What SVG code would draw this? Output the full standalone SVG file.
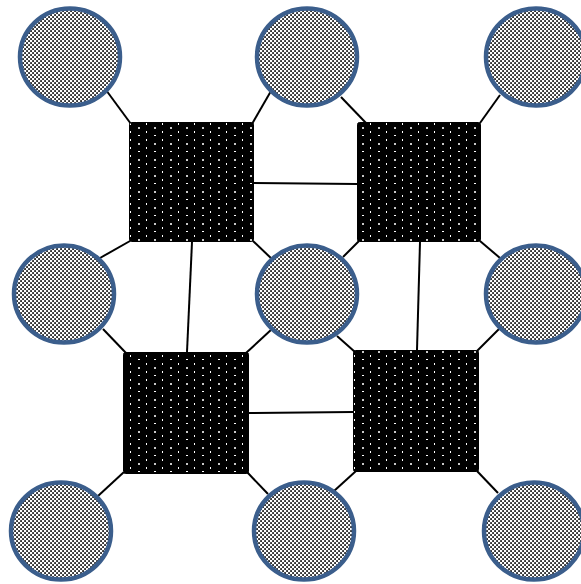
<svg xmlns="http://www.w3.org/2000/svg" width="581" height="584" viewBox="0 0 581 584">
<defs>
<pattern id="checker" width="4" height="4" patternUnits="userSpaceOnUse">
<rect width="4" height="4" fill="#ffffff"/>
<rect x="0.2" y="0.2" width="1.7" height="1.7" fill="#000000"/>
<rect x="2.2" y="2.2" width="1.7" height="1.7" fill="#000000"/>
</pattern>
<pattern id="dots" width="16" height="16" patternUnits="userSpaceOnUse" x="2" y="3">
<rect width="16" height="16" fill="#000000"/>
<rect x="0" y="0" width="1" height="2" fill="#ffffff"/>
<rect x="0" y="8" width="1" height="2" fill="#ffffff"/>
<rect x="8" y="4" width="2" height="1" fill="#ffffff"/>
<rect x="8" y="12" width="2" height="2" fill="#c8c8c8"/>
</pattern>
<style>
.conn line { stroke: #000000; stroke-width: 2; }
.circ { fill: url(#checker); stroke: #3b5e8c; stroke-width: 4.5; }
.sq { fill: url(#dots); stroke: #000000; stroke-width: 1; }
</style>
</defs>
<rect width="581" height="584" fill="#ffffff"/>
<g id="connectors" class="conn">
<line x1="106" y1="90" x2="131" y2="124"/>
<line x1="252" y1="124" x2="271" y2="91"/>
<line x1="341" y1="97" x2="366" y2="123"/>
<line x1="480" y1="123" x2="500" y2="95"/>
<line x1="254" y1="183" x2="357" y2="184"/>
<line x1="130" y1="241" x2="100" y2="258"/>
<line x1="253" y1="241" x2="273" y2="260"/>
<line x1="359" y1="241" x2="343" y2="257"/>
<line x1="480" y1="241" x2="500" y2="258"/>
<line x1="192" y1="242" x2="187" y2="352"/>
<line x1="420" y1="242" x2="417" y2="350"/>
<line x1="103" y1="329" x2="126" y2="353"/>
<line x1="272" y1="329" x2="246" y2="353"/>
<line x1="337" y1="336" x2="355" y2="352"/>
<line x1="499" y1="329" x2="477" y2="351"/>
<line x1="249" y1="413" x2="353" y2="412"/>
<line x1="124" y1="472" x2="98" y2="496"/>
<line x1="247" y1="472" x2="268" y2="494"/>
<line x1="356" y1="471" x2="334" y2="491"/>
<line x1="477" y1="471" x2="498" y2="493"/>
</g>
<g id="s1"><rect class="sq" x="129.5" y="122.5" width="124" height="119" rx="2"/></g>
<g id="s2"><rect class="sq" x="357.5" y="122.5" width="123" height="119" rx="2"/></g>
<g id="s3"><rect class="sq" x="123.5" y="352.5" width="125" height="121" rx="2"/></g>
<g id="s4"><rect class="sq" x="353.5" y="350.5" width="125" height="121" rx="2"/></g>
<g id="c1"><ellipse class="circ" cx="70" cy="57" rx="50" ry="48.5"/></g>
<g id="c2"><ellipse class="circ" cx="307" cy="57" rx="50" ry="48.5"/></g>
<g id="c3"><ellipse class="circ" cx="536" cy="57" rx="50" ry="48.5"/></g>
<g id="c4"><ellipse class="circ" cx="64" cy="294" rx="50" ry="48.5"/></g>
<g id="c5"><ellipse class="circ" cx="307" cy="294" rx="50" ry="48.5"/></g>
<g id="c6"><ellipse class="circ" cx="536" cy="294" rx="50" ry="48.5"/></g>
<g id="c7"><ellipse class="circ" cx="61" cy="531" rx="50" ry="48.5"/></g>
<g id="c8"><ellipse class="circ" cx="304" cy="531" rx="50" ry="48.5"/></g>
<g id="c9"><ellipse class="circ" cx="534" cy="531" rx="50" ry="48.5"/></g>
</svg>
